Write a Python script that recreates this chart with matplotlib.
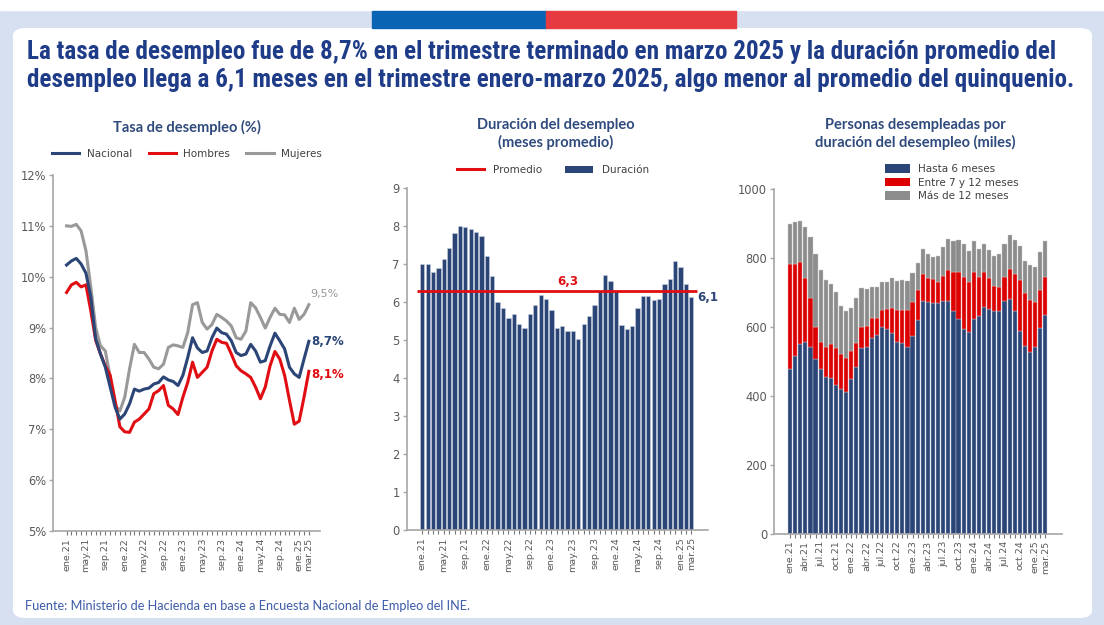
import matplotlib
matplotlib.use("Agg")
import matplotlib.pyplot as plt
import matplotlib.font_manager as fm
from matplotlib.patches import Rectangle, FancyBboxPatch, Patch
from matplotlib.lines import Line2D
import numpy as np

W, H = 1104, 625

# ---------------- data ----------------
nacional = [10.23,10.31,10.36,10.25,10.07,9.6,8.78,8.48,8.22,7.83,7.44,7.2,7.3,7.5,7.79,7.75,7.79,7.81,7.89,7.92,
            8.03,7.97,7.94,7.86,8.06,8.41,8.8,8.6,8.51,8.54,8.8,8.99,8.9,8.87,8.74,8.51,8.45,8.48,8.67,8.54,
            8.32,8.35,8.64,8.89,8.74,8.58,8.22,8.09,8.02,8.38,8.73]
hombres = [9.69,9.84,9.89,9.8,9.84,9.33,8.75,8.48,8.25,8.06,7.57,7.05,6.95,6.94,7.14,7.2,7.3,7.4,7.7,7.76,
           7.86,7.47,7.4,7.29,7.63,7.92,8.32,8.02,8.12,8.22,8.54,8.77,8.71,8.69,8.48,8.25,8.15,8.09,8.02,7.83,
           7.6,7.83,8.25,8.53,8.38,8.06,7.57,7.1,7.16,7.63,8.14]
mujeres = [11.0,10.99,11.03,10.9,10.51,9.8,9.0,8.64,8.54,8.03,7.47,7.36,7.63,8.19,8.67,8.51,8.51,8.38,8.22,8.19,
           8.28,8.61,8.66,8.64,8.61,8.9,9.45,9.49,9.1,8.97,9.06,9.26,9.2,9.13,9.03,8.8,8.77,8.93,9.49,9.39,
           9.2,8.99,9.2,9.38,9.26,9.25,9.1,9.38,9.16,9.26,9.45]

duracion = [7.0,7.0,6.79,6.89,7.14,7.44,7.82,8.0,7.97,7.92,7.85,7.75,7.21,6.7,6.0,5.86,5.6,5.68,5.42,5.33,
            5.68,5.92,6.18,6.1,5.81,5.32,5.37,5.24,5.24,5.04,5.44,5.64,5.94,6.29,6.73,6.56,6.31,5.41,5.29,5.37,
            5.85,6.17,6.17,6.06,6.1,6.47,6.62,7.08,6.92,6.48,6.13]
promedio = 6.3

hasta6 = [477,517,550,557,541,506,477,454,451,432,419,410,448,485,538,543,567,577,601,594,583,557,553,543,574,
          620,675,674,669,669,676,677,646,622,594,586,622,632,657,652,646,646,677,680,646,589,545,527,541,596,635]
entre7_12 = [306,266,238,184,142,93,80,89,99,106,102,101,82,69,61,60,58,50,48,57,73,92,96,106,100,
             88,78,67,70,63,72,89,115,139,150,146,139,112,104,89,73,69,67,88,107,148,153,151,131,112,109]
mas12 = [116,121,120,149,179,212,209,194,174,165,140,135,126,129,115,107,92,90,83,81,85,86,88,85,82,
         79,74,70,65,74,85,90,90,91,97,90,90,83,80,83,87,97,97,99,99,98,94,102,101,109,107]

ticks_4m_pos = [0,4,8,12,16,20,24,28,32,36,40,44,48,50]
ticks_4m_lab = ["ene.21","may.21","sep.21","ene.22","may.22","sep.22","ene.23","may.23","sep.23",
                "ene.24","may.24","sep.24","ene.25","mar.25"]
ticks_3m_pos = [0,3,6,9,12,15,18,21,24,27,30,33,36,39,42,45,48,50]
ticks_3m_lab = ["ene.21","abr.21","jul.21","oct.21","ene.22","abr.22","jul.22","oct.22","ene.23","abr.23",
                "jul.23","oct.23","ene.24","abr.24","jul.24","oct.24","ene.25","mar.25"]

title1 = "La tasa de desempleo fue de 8,7% en el trimestre terminado en marzo 2025 y la duración promedio del"
title2 = "desempleo llega a 6,1 meses en el trimestre enero-marzo 2025, algo menor al promedio del quinquenio."
fuente = "Fuente: Ministerio de Hacienda en base a Encuesta Nacional de Empleo del INE."

# ---------------- style ----------------
fonts = fm.fontManager.ttflist
names = {f.name for f in fonts}
title_kw = dict(family="Lato")
for cand in ["Liberation Sans Narrow", "Roboto Condensed", "Open Sans Condensed"]:
    if cand in names:
        title_kw = dict(family=cand)
        break
else:
    if any(f.name == "DejaVu Sans" and f.stretch == "condensed" and f.weight in ("bold", 700) for f in fonts):
        title_kw = dict(family="DejaVu Sans", fontstretch="condensed")

plt.rcParams['font.family'] = ['DejaVu Sans']

NAVY = "#2b4577"
RED = "#e00d12"
GREY = "#999999"
BGREY = "#8c8c8c"
TXT = "#595959"
TITLE_C = "#1f3c88"
PT = "#2f4a7c"
AX_C = "#a6a6a6"
LEG_C = "#404040"

fig = plt.figure(figsize=(W/100, H/100), dpi=100)
fig.patch.set_facecolor("#d7e0f1")

def px(l, t, r, b):
    return [l/W, 1-b/H, (r-l)/W, (b-t)/H]

# background decorations
fig.add_artist(Rectangle((0, 1-10/H), 1, 10/H, transform=fig.transFigure, color="white", zorder=0))
fig.add_artist(FancyBboxPatch((13/W, 1-618/H), (1092-13)/W, (618-28)/H,
                              boxstyle="round,pad=0,rounding_size=0.012", transform=fig.transFigure,
                              facecolor="white", edgecolor="none", zorder=0))
fig.add_artist(Rectangle((372/W, 1-28/H), (546-372)/W, 17/H, transform=fig.transFigure, color="#0a64b4", zorder=1))
fig.add_artist(Rectangle((546/W, 1-28/H), (736-546)/W, 17/H, transform=fig.transFigure, color="#e63c41", zorder=1))

t1 = fig.text(27/W, 1-59/H, title1, fontsize=18, fontweight="bold", color=TITLE_C, ha="left", va="baseline", **title_kw)
t2 = fig.text(27/W, 1-87/H, title2, fontsize=18, fontweight="bold", color=TITLE_C, ha="left", va="baseline", **title_kw)
fig.canvas.draw()
w1 = t1.get_window_extent().width
w2 = t2.get_window_extent().width
fs = min(18 * 1058 / w1, 18 * 1045 / w2)
t1.set_fontsize(fs)
t2.set_fontsize(fs)

fig.text(25/W, 1-606/H, fuente, fontsize=9.2, color="#3d5ba8", ha="left", va="center", family="Lato")

def style_axes(ax):
    for s in ["top", "right"]:
        ax.spines[s].set_visible(False)
    for s in ["left", "bottom"]:
        ax.spines[s].set_color(AX_C)
        ax.spines[s].set_linewidth(1.2)
    ax.tick_params(axis="y", colors=AX_C, labelcolor=TXT, labelsize=8.3, length=3, width=1, pad=2)
    ax.tick_params(axis="x", which="both", colors="#777777", labelcolor=TXT, labelsize=6.8, length=3, width=0.8,
                   labelrotation=90, pad=2)

x = np.arange(len(nacional))
PTFS = 10.5

# ---------------- panel 1 ----------------
ax1 = fig.add_axes(px(53, 175, 320, 531))
ax1.plot(x, mujeres, color=GREY, lw=2.2, label="Mujeres")
ax1.plot(x, hombres, color=RED, lw=2.2, label="Hombres")
ax1.plot(x, nacional, color=NAVY, lw=2.2, label="Nacional")
ax1.set_xlim(-2.8, 52.3)
ax1.set_ylim(5, 12)
ax1.set_yticks(range(5, 13))
ax1.set_yticklabels([f"{v}%" for v in range(5, 13)])
ax1.set_xticks(x, minor=True)
ax1.set_xticks(ticks_4m_pos)
ax1.set_xticklabels(ticks_4m_lab)
style_axes(ax1)
ax1.annotate("9,5%", (x[-1], mujeres[-1]), xytext=(1, 4), textcoords="offset points", fontsize=8,
             color=GREY, va="bottom", ha="left")
ax1.annotate("8,7%", (x[-1], nacional[-1]), xytext=(2, 0), textcoords="offset points", fontsize=8.5,
             color=NAVY, fontweight="bold", va="center", ha="left")
ax1.annotate("8,1%", (x[-1], hombres[-1]), xytext=(2, -2), textcoords="offset points", fontsize=8.5,
             color=RED, fontweight="bold", va="center", ha="left")
fig.text(187/W, 1-127/H, "Tasa de desempleo (%)", fontsize=PTFS, fontweight="bold", color=PT, ha="center",
         va="center", family="Lato")
h1 = [Line2D([], [], color=NAVY, lw=2.2), Line2D([], [], color=RED, lw=2.2), Line2D([], [], color=GREY, lw=2.2)]
fig.legend(h1, ["Nacional", "Hombres", "Mujeres"], loc="center", bbox_to_anchor=(187/W, 1-154/H), ncol=3,
           frameon=False, fontsize=7.5, handlelength=2.6, columnspacing=1.6, handletextpad=0.7,
           labelcolor=LEG_C)

# ---------------- panel 2 ----------------
ax2 = fig.add_axes(px(406.7, 188.3, 708, 530.3))
ax2.bar(x, duracion, width=0.8, color=NAVY, edgecolor="#c9d1e0", linewidth=0.4, label="Duración")
ax2.hlines(promedio, -1, 51, color=RED, lw=2, label="Promedio")
ax2.set_xlim(-2.9, 53.1)
ax2.set_ylim(0, 9)
ax2.set_yticks(range(0, 10))
ax2.set_xticks(x, minor=True)
ax2.set_xticks(ticks_4m_pos)
ax2.set_xticklabels(ticks_4m_lab)
style_axes(ax2)
ax2.text(27, promedio + 0.08, f"{promedio:.1f}".replace(".", ","), color=RED, fontsize=8.5, fontweight="bold",
         ha="center", va="bottom")
ax2.annotate(f"{duracion[-1]:.1f}".replace(".", ","), (x[-1], duracion[-1]), xytext=(4, 0),
             textcoords="offset points", fontsize=8.5, fontweight="bold", color=NAVY, va="center", ha="left")
fig.text(556/W, 1-134/H, "Duración del desempleo\n(meses promedio)", fontsize=PTFS, fontweight="bold", color=PT,
         ha="center", va="center", linespacing=1.2, multialignment="center", family="Lato")
h2 = [Line2D([], [], color=RED, lw=2.2), Patch(facecolor=NAVY)]
fig.legend(h2, ["Promedio", "Duración"], loc="center", bbox_to_anchor=(553/W, 1-170/H), ncol=2,
           frameon=False, fontsize=7.5, handlelength=2.6, columnspacing=2.2, handletextpad=0.9,
           labelcolor=LEG_C)

# ---------------- panel 3 ----------------
ax3 = fig.add_axes(px(774, 189.3, 1061.7, 533.6))
b1 = np.array(hasta6)
b2 = b1 + np.array(entre7_12)
ax3.bar(x, hasta6, width=0.82, color=NAVY, edgecolor="#c9d1e0", linewidth=0.3, label="Hasta 6 meses")
ax3.bar(x, entre7_12, bottom=b1, width=0.82, color="#dc0000", edgecolor="#f0b0b0", linewidth=0.3,
        label="Entre 7 y 12 meses")
ax3.bar(x, mas12, bottom=b2, width=0.82, color=BGREY, edgecolor="#cccccc", linewidth=0.3, label="Más de 12 meses")
ax3.set_xlim(-3.13, 53.2)
ax3.set_ylim(0, 1000)
ax3.set_yticks(range(0, 1001, 200))
ax3.set_xticks(x, minor=True)
ax3.set_xticks(ticks_3m_pos)
ax3.set_xticklabels(ticks_3m_lab)
style_axes(ax3)
fig.text(915/W, 1-134/H, "Personas desempleadas por\nduración del desempleo (miles)", fontsize=PTFS,
         fontweight="bold", color=PT, ha="center", va="center", linespacing=1.2, multialignment="center",
         family="Lato")
h3 = [Patch(facecolor=NAVY), Patch(facecolor="#dc0000"), Patch(facecolor=BGREY)]
fig.legend(h3, ["Hasta 6 meses", "Entre 7 y 12 meses", "Más de 12 meses"], loc="upper left",
           bbox_to_anchor=(885/W, 1-164/H), ncol=1, frameon=False, fontsize=7.5, handlelength=2.4,
           handleheight=0.9, labelspacing=0.35, handletextpad=0.8, labelcolor=LEG_C,
           borderpad=0, borderaxespad=0)

fig.savefig("out.png", dpi=100, facecolor=fig.get_facecolor())
